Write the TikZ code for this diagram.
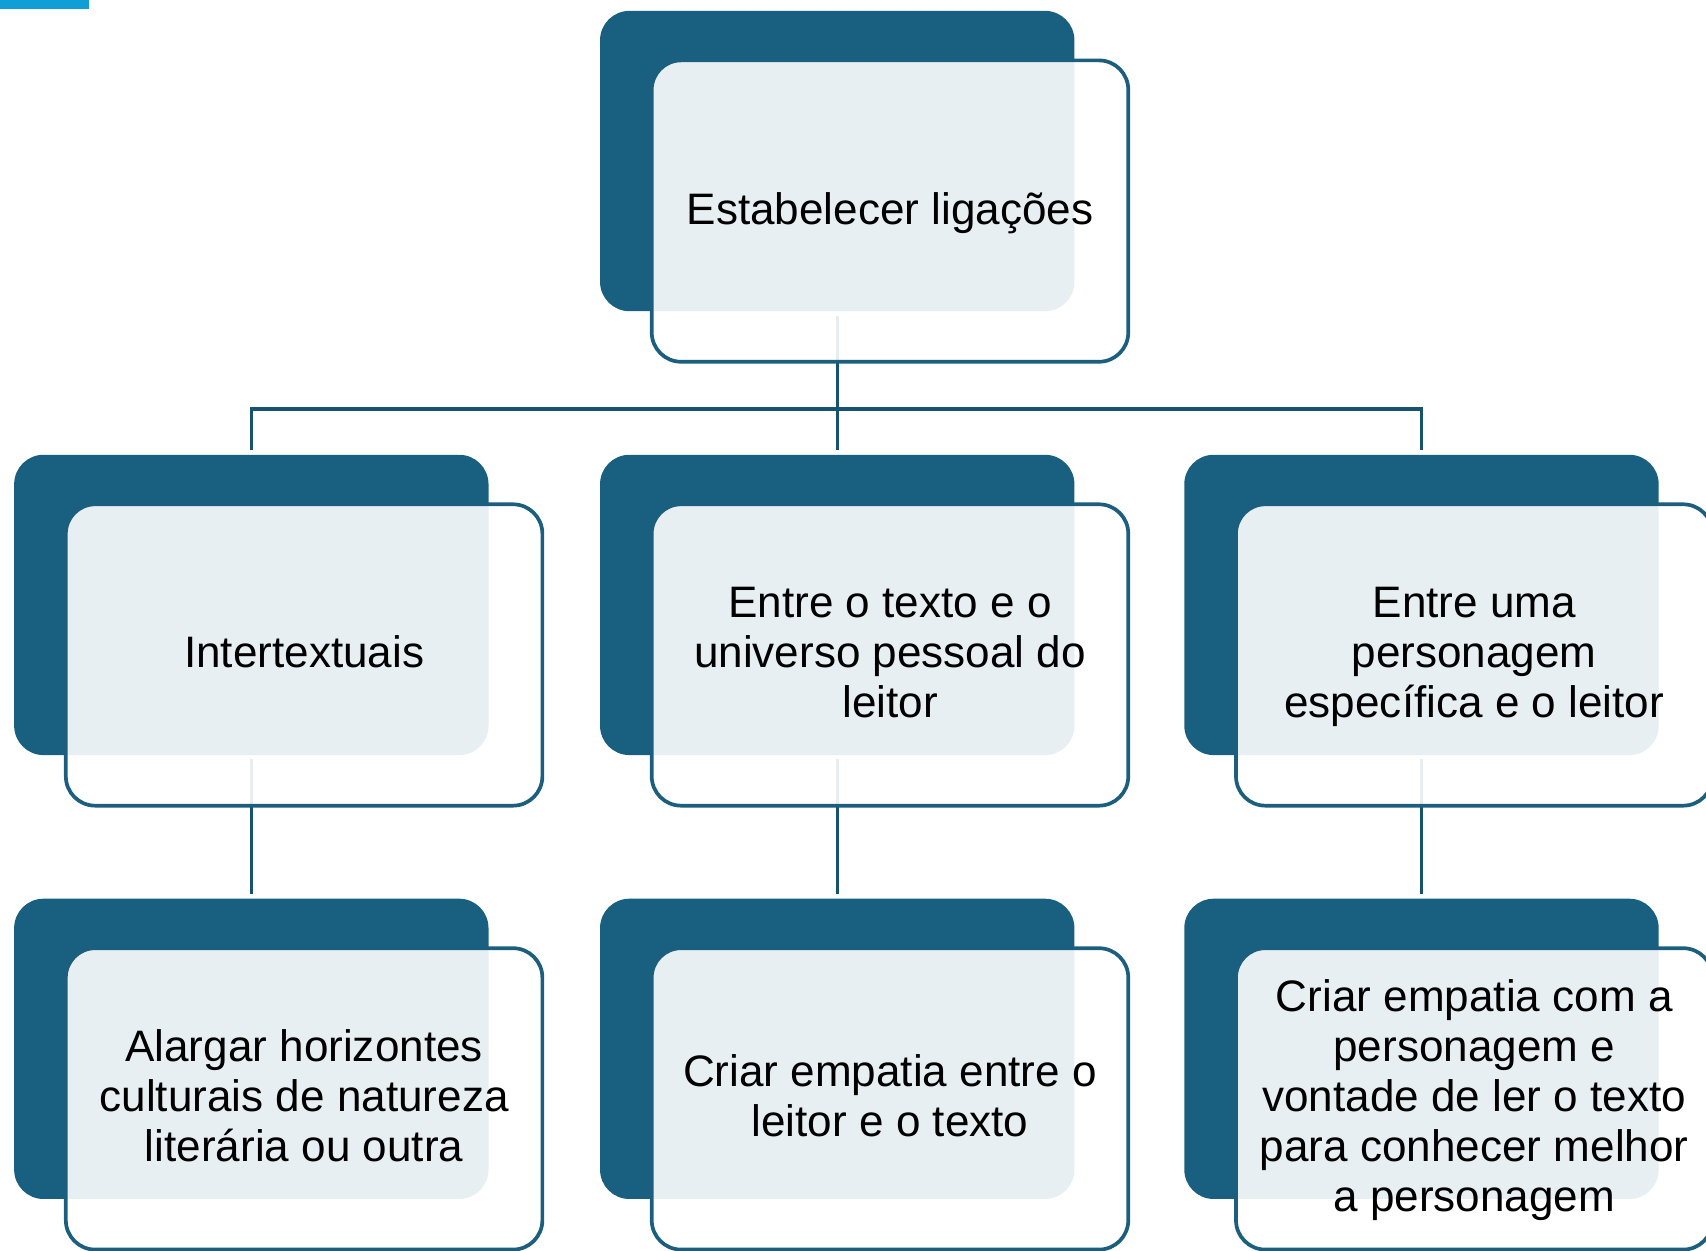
\documentclass[tikz,border=0pt]{standalone}
\usepackage{fontspec}
\setmainfont{Liberation Sans}
\definecolor{darkbox}{RGB}{25,96,128}
\definecolor{edgec}{RGB}{27,94,125}
\definecolor{linec}{RGB}{23,82,110}
\definecolor{topbar}{RGB}{15,158,213}
\newcommand\mystrut{\rule[-11.1pt]{0pt}{46pt}}
\begin{document}
\begin{tikzpicture}[x=1pt,y=-1pt,
  back/.style={draw=none,fill=darkbox,rounded corners=27pt,minimum width=436pt,minimum height=276pt,inner sep=0pt,outer sep=0pt},
  front/.style={draw=edgec,line width=3.4pt,fill=white,fill opacity=0.9,text opacity=1,rounded corners=27pt,minimum width=438pt,minimum height=277pt,inner sep=2pt,outer sep=0pt,align=center,font=\fontsize{40.5}{46}\selectfont},
  link/.style={draw=linec,line width=3pt,line join=miter}]
\clip (0,0) rectangle (1568,1149.8);
\fill[topbar] (0,0) rectangle (82,8.3);
% back boxes
\node[back] (b1)  at (769.5,148) {};
\node[back] (b21) at (231,556) {};
\node[back] (b22) at (769.5,556) {};
\node[back] (b23) at (1306.5,556) {};
\node[back] (b31) at (231,964) {};
\node[back] (b32) at (769.5,964) {};
\node[back] (b33) at (1306.5,964) {};
% connectors
\draw[link] ([yshift=-4pt]b1.south) -- ([yshift=4pt]b22.north);
\draw[link] ([yshift=4pt]b21.north) |- ([yshift=42pt]b22.north) -| ([yshift=4pt]b23.north);
\draw[link] ([yshift=-4pt]b21.south) -- ([yshift=4pt]b31.north);
\draw[link] ([yshift=-4pt]b22.south) -- ([yshift=4pt]b32.north);
\draw[link] ([yshift=-4pt]b23.south) -- ([yshift=4pt]b33.north);
% front boxes
\node[front] (f1)  at ([shift={(48.5,46)}]b1.center) {\mystrut Estabelecer ligações\mystrut};
\node[front] (f21) at ([shift={(48.5,46)}]b21.center) {\mystrut Intertextuais\mystrut};
\node[front] (f22) at ([shift={(48.5,46)}]b22.center) {\mystrut Entre o texto e o\\universo pessoal do\\leitor\mystrut};
\node[front] (f23) at ([shift={(48.5,46)}]b23.center) {\mystrut Entre uma\\personagem\\específica e o leitor\mystrut};
\node[front] (f31) at ([shift={(48.5,46)}]b31.center) {\mystrut Alargar horizontes\\culturais de natureza\\literária ou outra\mystrut};
\node[front] (f32) at ([shift={(48.5,46)}]b32.center) {\mystrut Criar empatia entre o\\leitor e o texto\mystrut};
\node[front] (f33) at ([shift={(48.5,46)}]b33.center) {\mystrut Criar empatia com a\\personagem e\\vontade de ler o texto\\para conhecer melhor\\a personagem\mystrut};
\end{tikzpicture}
\end{document}
